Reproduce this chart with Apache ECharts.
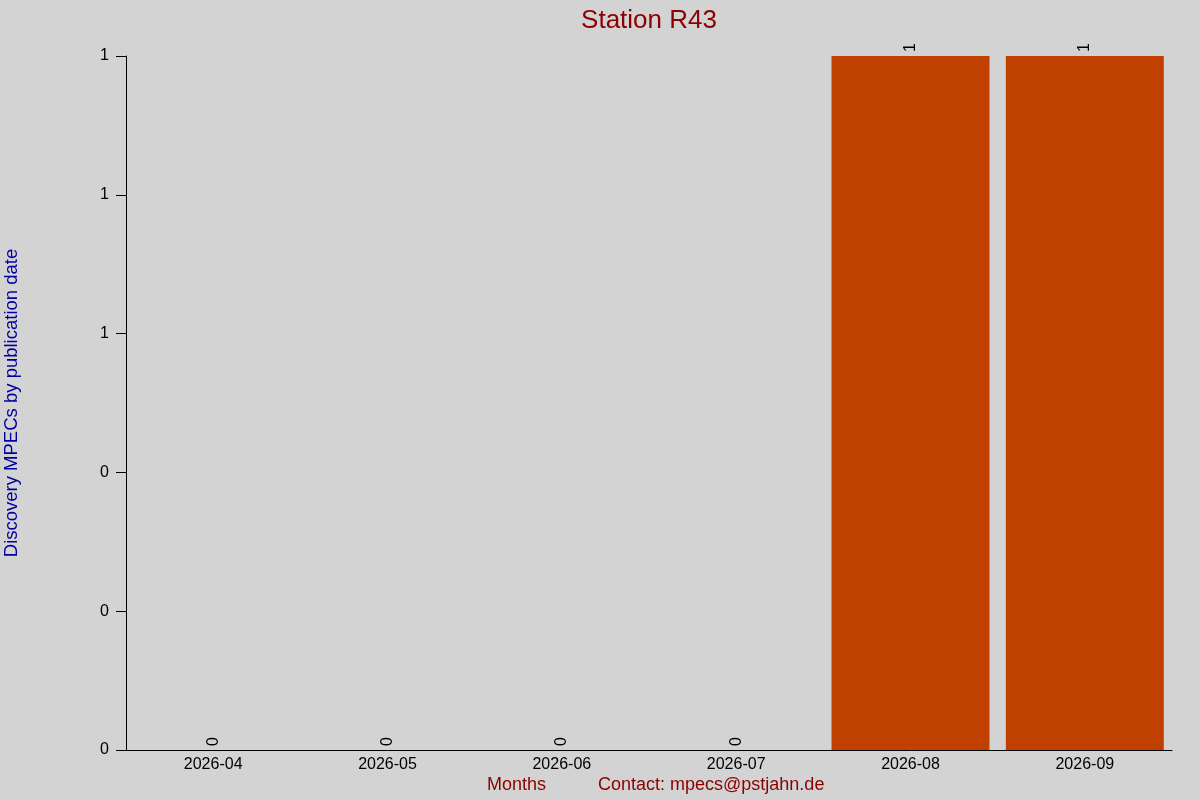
<!DOCTYPE html>
<html>
<head>
<meta charset="utf-8">
<script src="https://cdn.jsdelivr.net/npm/echarts@6/dist/echarts.min.js"></script>
<style>html,body{margin:0;padding:0;background:#d3d3d3;}#c{width:1200px;height:800px;}</style>
</head>
<body>
<div id="c"></div>
<script>
const months = ["2026-04", "2026-05", "2026-06", "2026-07", "2026-08", "2026-09"];
const discoveryMPECs = [0, 0, 0, 0, 1, 1];
const yTickValues = [0, 0.2, 0.4, 0.6, 0.8, 1];

const FONT = "Liberation Sans, Arial, sans-serif";
const chart = echarts.init(document.getElementById('c'));
chart.setOption({
  backgroundColor: '#d3d3d3',
  animation: false,
  title: {
    text: 'Station R43',
    left: 644,
    top: 3,
    textAlign: 'center',
    textStyle: { color: '#8b0000', fontSize: 26, fontWeight: 'normal', fontFamily: FONT }
  },
  grid: { left: 126, right: 28, top: 56, bottom: 50, containLabel: false, outerBoundsMode: 'none' },
  xAxis: {
    type: 'category',
    data: months,
    axisLine: { lineStyle: { color: '#000', width: 1 } },
    axisTick: { show: false },
    axisLabel: { color: '#000', fontSize: 16, fontFamily: FONT, margin: 7 },
    splitLine: { show: false }
  },
  yAxis: {
    type: 'value',
    min: yTickValues[0],
    max: yTickValues[yTickValues.length - 1],
    interval: 0.2,
    name: 'Discovery MPECs by publication date',
    nameLocation: 'middle',
    nameRotate: 90,
    nameGap: 105,
    nameTextStyle: { color: '#0000a0', fontSize: 18.5, fontFamily: FONT },
    axisLine: { show: true, lineStyle: { color: '#000', width: 1 } },
    axisTick: { show: true, length: 10, lineStyle: { color: '#000' } },
    axisLabel: {
      color: '#000', fontSize: 16, fontFamily: FONT, margin: 17,
      formatter: v => Math.round(v).toString()
    },
    splitLine: { show: false }
  },
  series: [{
    type: 'bar',
    data: discoveryMPECs,
    barCategoryGap: '9.4%',
    itemStyle: { color: '#c04000' },
    label: {
      show: true,
      position: 'top',
      rotate: 90,
      align: 'left',
      verticalAlign: 'middle',
      distance: 4,
      color: '#000',
      fontSize: 16,
      fontFamily: FONT
    }
  }],
  graphic: [
    { type: 'text', left: 487, top: 776,
      style: { text: 'Months', fill: '#8b0000', font: '18px ' + FONT } },
    { type: 'text', left: 598, top: 776,
      style: { text: 'Contact: mpecs@pstjahn.de', fill: '#8b0000', font: '18px ' + FONT } }
  ]
});
</script>
</body>
</html>
